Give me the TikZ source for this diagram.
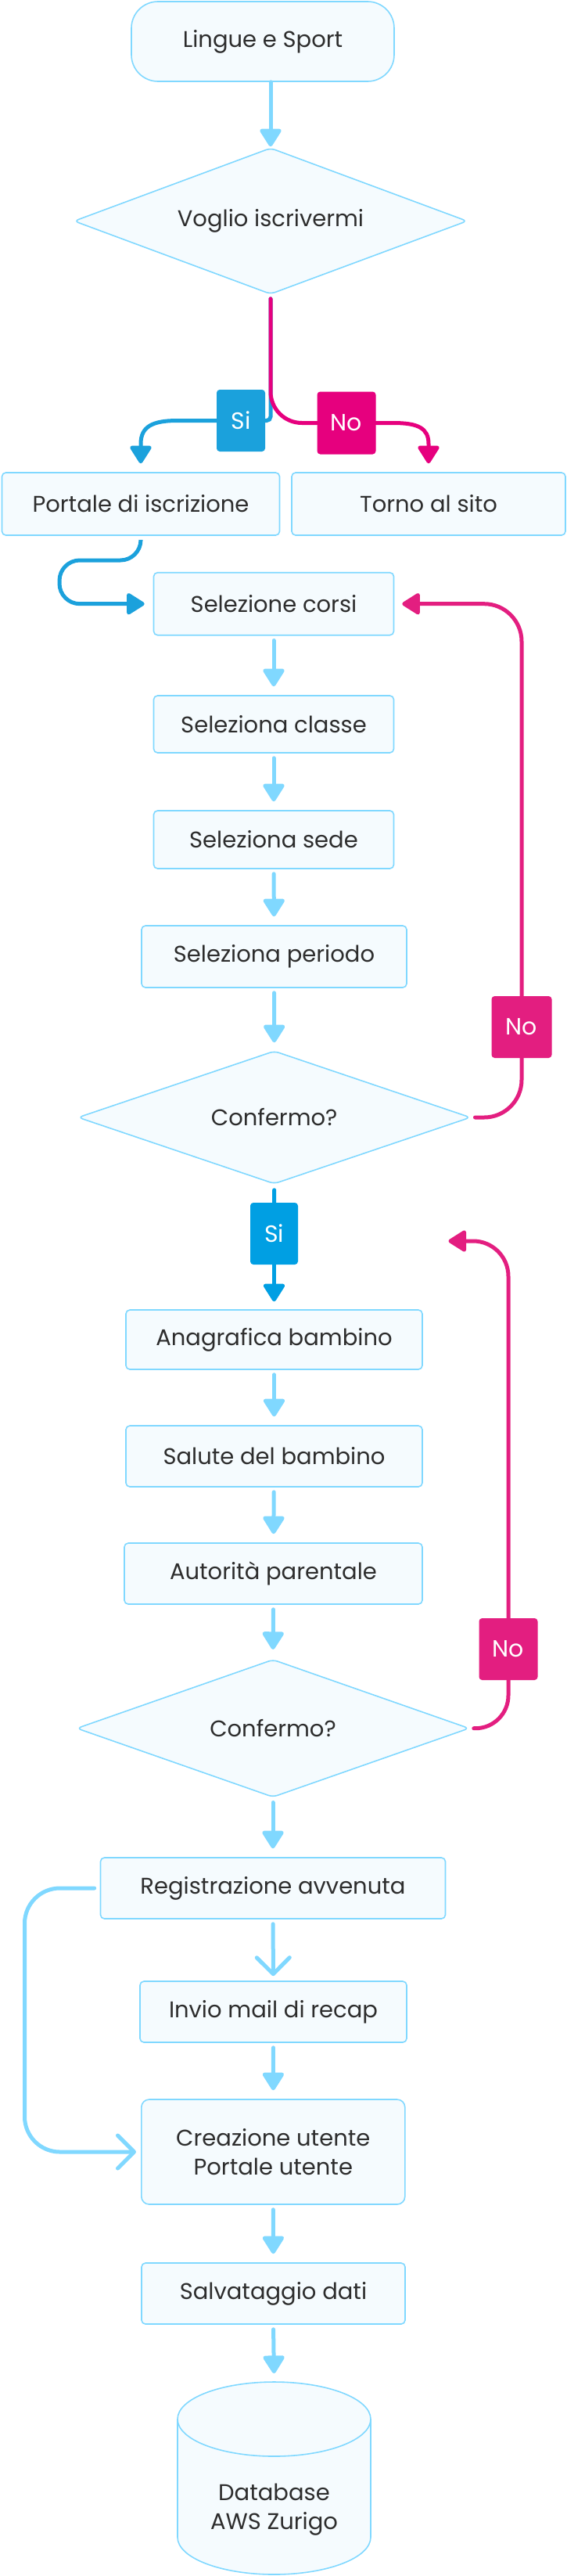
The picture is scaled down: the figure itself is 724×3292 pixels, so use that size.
\documentclass[tikz,border=0pt]{standalone}
\usepackage{fontspec}
\setmainfont{Poppins}
\usetikzlibrary{shapes.geometric,arrows.meta,calc}
\definecolor{lb}{HTML}{80D8FF}
\definecolor{boxfill}{HTML}{F5FBFE}
\definecolor{txt}{HTML}{2D2D2D}
\definecolor{siA}{HTML}{1BA1DC}
\definecolor{siB}{HTML}{009FE3}
\definecolor{noA}{HTML}{E6007E}
\definecolor{noB}{HTML}{E31E80}
\begin{document}
\begin{tikzpicture}[x=1pt,y=1pt,
  txtfont/.style={font=\fontsize{29}{37}\selectfont},
  box/.style={draw=lb, fill=boxfill, line width=1.6pt, rounded corners=5pt, inner sep=0pt,
    text=txt, txtfont, align=center},
  dec/.style={diamond, draw=lb, fill=boxfill, line width=1.6pt, rounded corners=6pt,
    inner sep=0pt, text=txt, txtfont},
  lab/.style={rounded corners=4pt, inner sep=0pt, text=white,
    font=\fontsize{30}{36}\selectfont, minimum height=79pt},
  conn/.style={line width=5pt, line cap=round},
  tip/.style={-{Triangle[width=30pt,length=25pt,round]}},
  barb/.style={-{Straight Barb[width=42pt,length=21pt,round]}},
  flow/.style={conn, draw=lb, tip, shorten <=6pt, shorten >=11pt}
]
\useasboundingbox (0,0) rectangle (724,-3292);
\fill[white] (0,0) rectangle (724,-3292);

% ---------- nodes ----------
\node[box, rounded corners=34pt, minimum width=336pt, minimum height=102pt] (start) at (336,-53) {Lingue e Sport};
\node[dec, aspect=2.69, minimum width=503pt, minimum height=187pt] (d1) at (346,-282.5) {Voglio iscrivermi};
\node[box, minimum width=355pt, minimum height=80pt] (p1) at (180,-644) {Portale di iscrizione};
\node[box, minimum width=350pt, minimum height=80pt] (torno) at (548,-644) {Torno al sito};
\node[box, minimum width=307pt, minimum height=80pt] (sc) at (350,-771.7) {Selezione corsi};
\node[box, minimum width=307pt, minimum height=73pt] (scl) at (350,-925.5) {Seleziona classe};
\node[box, minimum width=307pt, minimum height=74pt] (ss) at (350,-1073) {Seleziona sede};
\node[box, minimum width=339pt, minimum height=79pt] (sp) at (350.5,-1222.5) {Seleziona periodo};
\node[dec, aspect=2.95, minimum width=502pt, minimum height=170pt] (d2) at (350.7,-1428) {Confermo?};
\node[box, minimum width=379pt, minimum height=76pt] (ana) at (350.5,-1712) {Anagrafica bambino};
\node[box, minimum width=379pt, minimum height=78pt] (sal) at (350.5,-1861) {Salute del bambino};
\node[box, minimum width=381pt, minimum height=78pt] (aut) at (349.5,-2011) {Autorità parentale};
\node[dec, aspect=2.85, minimum width=502pt, minimum height=176pt] (d3) at (349,-2208.7) {Confermo?};
\node[box, minimum width=441pt, minimum height=78pt] (reg) at (349,-2413) {Registrazione avvenuta};
\node[box, minimum width=341pt, minimum height=78pt] (inv) at (349.5,-2571) {Invio mail di recap};
\node[box, rounded corners=10pt, minimum width=337pt, minimum height=134pt] (cre) at (349.3,-2750) {Creazione utente\\Portale utente};
\node[box, minimum width=337pt, minimum height=78pt] (sav) at (349.5,-2931) {Salvataggio dati};

% database cylinder
\path[draw=lb, fill=boxfill, line width=1.6pt] (227,-3091.5) -- (227,-3242.5)
  arc[start angle=180, end angle=360, x radius=123.5pt, y radius=47.5pt] -- (474,-3091.5)
  arc[start angle=0, end angle=180, x radius=123.5pt, y radius=47.5pt] -- cycle;
\draw[lb, line width=1.6pt] (227,-3091.5)
  arc[start angle=180, end angle=360, x radius=123.5pt, y radius=47.5pt];
\node[text=txt, txtfont, align=center, inner sep=0pt] (db) at (350.5,-3207) {Database\\AWS Zurigo};
\coordinate (dbtop) at (350.5,-3043);
\coordinate (loopend) at (573.5,-1586);
\coordinate (lx) at (31.5,0);

% labels
\node[lab, fill=siA, minimum width=62pt] (si1) at (308,-537.5) {Si};
\node[lab, fill=noA, minimum width=75pt, minimum height=80pt] (no1) at (443,-540.5) {No};
\node[lab, fill=noB, minimum width=77pt] (no2) at (667,-1312.5) {No};
\node[lab, fill=siB, minimum width=61pt] (si2) at (350.5,-1576.5) {Si};
\node[lab, fill=noB, minimum width=75pt] (no3) at (650,-2107.5) {No};

% ---------- connectors ----------
\draw[flow, shorten <=0pt, shorten >=1pt] (d1.north |- start.south) -- (d1.north);

% first decision: Si (blue) under No (magenta)
\draw[conn, siA, rounded corners=5pt, shorten <=5pt] (d1.south) |- (si1.east);
\draw[conn, siA, tip, shorten >=11pt] (si1.west) -- ++(-50,0)
  .. controls +(-32,0) and +(0,22) .. ($(p1.north)+(0,36)$) -- (p1.north);
\draw[conn, noA, rounded corners=40pt, shorten <=5pt] (d1.south) |- (no1.west);
\draw[conn, noA, tip, shorten >=11pt] (no1.east) -- ++(22,0)
  .. controls +(32,0) and +(0,20) .. ($(torno.north)+(0,36)$) -- (torno.north);

% portal to course selection
\draw[conn, siA, tip, rounded corners=26pt, shorten <=6pt, shorten >=11pt]
  (p1.south) |- (76,-716) |- (sc.west);

% selection chain
\draw[flow] (sc) -- (scl);
\draw[flow] (scl) -- (ss);
\draw[flow] (ss) -- (sp);
\draw[flow, shorten >=10pt] (sp.south) -- (d2.north);

% second decision
\draw[conn, noB, rounded corners=48pt, shorten <=5pt] (d2.east) -| (no2.south);
\draw[conn, noB, tip, rounded corners=48pt, shorten >=10pt] (no2.north) |- (sc.east);
\draw[conn, siB, shorten <=7pt] (d2.south) -- (si2.north);
\draw[conn, siB, tip, shorten >=10pt] (si2.south) -- (ana.north);

% child data chain
\draw[flow] (ana) -- (sal);
\draw[flow] (sal) -- (aut);
\draw[flow, shorten >=12pt] (aut.south) -- (d3.north);

% third decision
\draw[conn, noB, rounded corners=42pt, shorten <=5pt] (d3.east) -| (no3.south);
\draw[conn, noB, tip, rounded corners=45pt] (no3.north) |- (loopend);
\draw[flow] (d3.south) -- (reg.north);

% registration
\draw[conn, lb, barb, shorten <=6pt, shorten >=6pt] (reg) -- (inv);
\draw[conn, lb, barb, rounded corners=45pt, shorten <=7pt, shorten >=6pt]
  (reg.west) -- (reg.west -| lx) -- (cre.west -| lx) -- (cre.west);
\draw[flow] (inv) -- (cre);
\draw[flow] (cre) -- (sav);
\draw[flow, shorten >=10pt] (sav.south) -- (dbtop);
\end{tikzpicture}
\end{document}
